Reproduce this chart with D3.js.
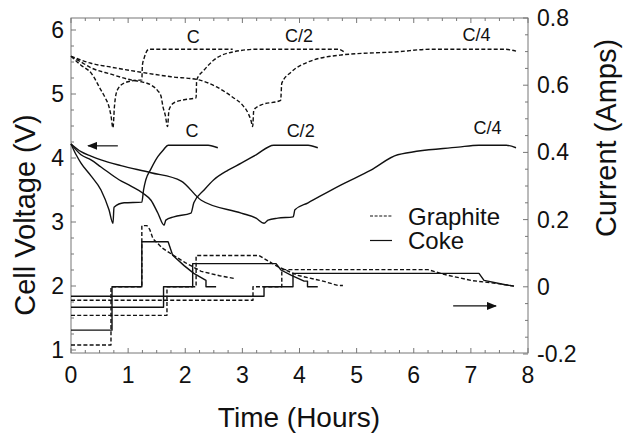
<!DOCTYPE html>
<html>
<head>
<meta charset="utf-8">
<script src="https://cdn.jsdelivr.net/npm/d3@7/dist/d3.min.js"></script>
<style>
  html, body { margin: 0; padding: 0; background: #fff; }
  svg { display: block; }
  text { font-family: "Liberation Sans", Arial, Helvetica, sans-serif; fill: #111; }
</style>
</head>
<body>
<svg id="chart" width="633" height="436"></svg>
<script>
// ---- axis ticks ----
const timeTicks = [0, 1, 2, 3, 4, 5, 6, 7, 8];
const voltTicks = [1, 2, 3, 4, 5, 6];
const currentTicks = [-0.2, 0, 0.2, 0.4, 0.6, 0.8];
const currentTickLabels = ["-0.2", "0", "0.2", "0.4", "0.6", "0.8"];

// ---- cell voltage, graphite anode (plotted +1.5 V) : [hours, volts] ----
const graphiteVoltC = [[0,5.59],[0.175,5.45],[0.35,5.33],[0.525,5.06],[0.6,4.94],[0.665,4.80],[0.70,4.66],[0.735,4.47],
  [0.76,4.80],[0.81,5.06],[0.93,5.17],[1.10,5.21],[1.24,5.22],[1.25,5.45],[1.28,5.56],[1.365,5.70],[2.83,5.70]];
const graphiteVoltC2 = [[0,5.59],[0.175,5.5],[0.35,5.41],[0.7,5.31],[1.05,5.22],[1.24,5.19],[1.40,5.14],[1.52,5.05],[1.575,4.97],[1.61,4.80],[1.65,4.67],[1.69,4.49],
  [1.715,4.75],[1.80,4.86],[1.98,4.91],[2.19,4.94],[2.20,5.22],[2.33,5.375],[2.50,5.53],[2.85,5.66],[3.27,5.70],[4.67,5.70],[4.78,5.66]];
const graphiteVoltC4 = [[0,5.59],[0.175,5.53],[0.35,5.48],[0.70,5.42],[1.225,5.34],[1.75,5.27],[2.24,5.22],[2.55,5.11],[2.83,4.95],[3.0,4.83],[3.10,4.70],[3.15,4.59],[3.18,4.49],
  [3.20,4.75],[3.33,4.83],[3.67,4.90],[3.69,5.17],[3.85,5.34],[4.15,5.50],[4.73,5.61],[5.72,5.66],[6.30,5.70],[7.58,5.70],[7.79,5.67]];

// ---- cell voltage, coke anode : [hours, volts] ----
const cokeVoltC = [[0,4.22],[0.09,4.05],[0.175,3.92],[0.35,3.72],[0.525,3.50],[0.665,3.19],[0.735,2.98],
  [0.753,3.23],[0.93,3.30],[1.24,3.31],[1.27,3.50],[1.31,3.66],[1.40,3.83],[1.52,4.02],[1.62,4.13],[1.70,4.20],[2.40,4.20],[2.57,4.16]];
const cokeVoltC2 = [[0,4.22],[0.175,4.05],[0.35,3.97],[0.525,3.86],[0.84,3.66],[1.05,3.56],[1.26,3.45],[1.40,3.34],[1.52,3.14],[1.63,2.95],
  [1.66,3.03],[1.80,3.08],[2.10,3.14],[2.15,3.30],[2.33,3.50],[2.50,3.66],[2.75,3.81],[2.98,3.92],[3.24,4.05],[3.55,4.20],[4.15,4.20],[4.32,4.16]];
const cokeVoltC4 = [[0,4.22],[0.175,4.10],[0.35,4.03],[0.525,3.97],[0.875,3.88],[1.40,3.77],[1.93,3.64],[2.28,3.34],[2.98,3.14],[3.24,3.06],[3.38,2.98],
  [3.45,3.03],[3.62,3.06],[3.89,3.08],[3.92,3.19],[4.15,3.30],[4.73,3.58],[5.25,3.81],[5.72,4.05],[6.78,4.17],[7.14,4.20],[7.62,4.20],[7.79,4.16]];

// ---- cell current : [hours, amps] ----
const graphiteAmpC = [[0,-0.173],[0.70,-0.173],[0.70,0],[1.24,0],[1.24,0.182],[1.33,0.182],[1.38,0.17],[1.435,0.143],[1.6,0.115],[1.8,0.093],[2.0,0.072],[2.28,0.046],[2.6,0.033],[2.85,0.025]];
const graphiteAmpC2 = [[0,-0.085],[1.68,-0.085],[1.68,0],[2.19,0],[2.19,0.093],[3.29,0.093],[3.62,0.06],[3.97,0.034],[4.43,0.016],[4.67,0.004],[4.76,0.004]];
const graphiteAmpC4 = [[0,-0.04],[3.186,-0.04],[3.186,0],[3.69,0],[3.69,0.051],[6.25,0.051],[6.53,0.037],[7.0,0.019],[7.58,0.007],[7.755,0.002]];
const cokeAmpC = [[0,-0.129],[0.718,-0.129],[0.718,0],[1.24,0],[1.24,0.134],[1.70,0.134],[1.78,0.094],[1.98,0.063],[2.15,0.04],[2.363,0.019],[2.363,0],[2.54,0]];
const cokeAmpC2 = [[0,-0.061],[1.62,-0.061],[1.62,0],[2.13,0],[2.13,0.069],[3.59,0.069],[3.676,0.05],[3.85,0.035],[4.08,0.017],[4.14,0.017],[4.14,0],[4.32,0]];
const cokeAmpC4 = [[0,-0.028],[3.379,-0.028],[3.379,0],[3.886,0],[3.886,0.04],[7.142,0.04],[7.23,0.019],[7.58,0.007],[7.755,0.002]];

// ---- rate labels ----
const rateLabels = ["C", "C/2", "C/4"];
const graphiteLabelPos = [[2.14, 5.69], [3.99, 5.70], [7.1, 5.72]];   // [hours, volts]
const cokeLabelPos = [[2.12, 4.19], [4.02, 4.19], [7.29, 4.23]];

const legendItems = ["Graphite", "Coke"];

// ---- layout ----
const svg = d3.select("#chart");
const plot = { left: 71, right: 528, top: 18, bottom: 353 };

const x = d3.scaleLinear().domain([0, 8]).range([plot.left, plot.right]);
const yV = d3.scaleLinear().domain([1, 6]).range([350, 30]);
const yI = d3.scaleLinear().domain([-0.2, 0.8]).range([354, 18]);

const ink = "#111";
const dash = "4,2.2";

// frame
svg.append("rect")
  .attr("x", plot.left).attr("y", plot.top)
  .attr("width", plot.right - plot.left).attr("height", plot.bottom - plot.top)
  .attr("fill", "none").attr("stroke", "#777").attr("stroke-width", 1);

// inward minor/major ticks along the frame
const tickG = svg.append("g").attr("stroke", "#777").attr("stroke-width", 1);
d3.range(0, 8.001, 0.25).forEach(t => {
  const len = Math.abs(t - Math.round(t)) < 1e-6 ? 5 : 3;
  tickG.append("line").attr("x1", x(t)).attr("x2", x(t)).attr("y1", plot.bottom).attr("y2", plot.bottom - len);
  tickG.append("line").attr("x1", x(t)).attr("x2", x(t)).attr("y1", plot.top).attr("y2", plot.top + len);
});
d3.range(1, 6.001, 0.25).forEach(v => {
  const len = Math.abs(v - Math.round(v)) < 1e-6 ? 5 : 3;
  tickG.append("line").attr("x1", plot.left).attr("x2", plot.left + len).attr("y1", yV(v)).attr("y2", yV(v));
});
d3.range(-0.2, 0.8001, 0.05).forEach(a => {
  const len = Math.abs(a * 5 - Math.round(a * 5)) < 1e-6 ? 5 : 3;
  tickG.append("line").attr("x1", plot.right).attr("x2", plot.right - len).attr("y1", yI(a)).attr("y2", yI(a));
});

// tick labels
svg.append("g").selectAll("text").data(timeTicks).join("text")
  .attr("x", d => x(d)).attr("y", 383)
  .attr("text-anchor", "middle").attr("font-size", 23)
  .text(d => d);
svg.append("g").selectAll("text").data(voltTicks).join("text")
  .attr("x", 64).attr("y", d => yV(d) + 8)
  .attr("text-anchor", "end").attr("font-size", 23)
  .text(d => d);
svg.append("g").selectAll("text").data(currentTicks).join("text")
  .attr("x", 537).attr("y", (d, i) => yI(d) + 8)
  .attr("text-anchor", "start").attr("font-size", 23)
  .text((d, i) => currentTickLabels[i]);

// axis titles
svg.append("text").attr("x", 299).attr("y", 427)
  .attr("text-anchor", "middle").attr("font-size", 28).text("Time (Hours)");
svg.append("text").attr("transform", "translate(35,215) rotate(-90)")
  .attr("text-anchor", "middle").attr("font-size", 29).text("Cell Voltage (V)");
svg.append("text").attr("transform", "translate(616,138) rotate(-90)")
  .attr("text-anchor", "middle").attr("font-size", 29).text("Current (Amps)");

// curves
const lineV = d3.line().x(d => x(d[0])).y(d => yV(d[1]));
const lineI = d3.line().x(d => x(d[0])).y(d => yI(d[1]));
const curves = svg.append("g").attr("fill", "none").attr("stroke", ink)
  .attr("stroke-width", 1.4).attr("stroke-linejoin", "round");

[graphiteVoltC, graphiteVoltC2, graphiteVoltC4].forEach(s =>
  curves.append("path").attr("d", lineV.curve(d3.curveMonotoneX)(s)).attr("stroke-dasharray", dash));
[cokeVoltC, cokeVoltC2, cokeVoltC4].forEach(s =>
  curves.append("path").attr("d", lineV.curve(d3.curveMonotoneX)(s)));
[graphiteAmpC, graphiteAmpC2, graphiteAmpC4].forEach(s =>
  curves.append("path").attr("d", lineI(s)).attr("stroke-dasharray", dash));
[cokeAmpC, cokeAmpC2, cokeAmpC4].forEach(s =>
  curves.append("path").attr("d", lineI(s)));

// rate labels
svg.append("g").selectAll("text").data(graphiteLabelPos).join("text")
  .attr("x", d => x(d[0])).attr("y", d => yV(d[1]) - 7)
  .attr("text-anchor", "middle").attr("font-size", 18)
  .text((d, i) => rateLabels[i]);
svg.append("g").selectAll("text").data(cokeLabelPos).join("text")
  .attr("x", d => x(d[0])).attr("y", d => yV(d[1]) - 9)
  .attr("text-anchor", "middle").attr("font-size", 18)
  .text((d, i) => rateLabels[i]);

// axis-pointer arrows
const defs = svg.append("defs");
defs.append("marker").attr("id", "head").attr("viewBox", "0 0 10 8")
  .attr("refX", 9).attr("refY", 4).attr("markerWidth", 10).attr("markerHeight", 8)
  .attr("markerUnits", "userSpaceOnUse").attr("orient", "auto")
  .append("path").attr("d", "M0,0 L10,4 L0,8 Z").attr("fill", ink);
svg.append("line")
  .attr("x1", x(0.82)).attr("x2", x(0.30)).attr("y1", yV(4.19)).attr("y2", yV(4.19))
  .attr("stroke", ink).attr("stroke-width", 1.2).attr("marker-end", "url(#head)");
svg.append("line")
  .attr("x1", x(6.69)).attr("x2", x(7.44)).attr("y1", yI(-0.057)).attr("y2", yI(-0.057))
  .attr("stroke", ink).attr("stroke-width", 1.2).attr("marker-end", "url(#head)");

// legend
const legend = svg.append("g").attr("transform", "translate(370,216)");
legendItems.forEach((name, i) => {
  const g = legend.append("g").attr("transform", `translate(0,${i * 24.5})`);
  g.append("line").attr("x1", 0).attr("x2", 22).attr("y1", 0).attr("y2", 0)
    .attr("stroke", ink).attr("stroke-width", 1.2)
    .attr("stroke-dasharray", i === 0 ? "3,1.6" : null);
  g.append("text").attr("x", 38).attr("y", 8.5).attr("font-size", 24).text(name);
});
</script>
</body>
</html>
